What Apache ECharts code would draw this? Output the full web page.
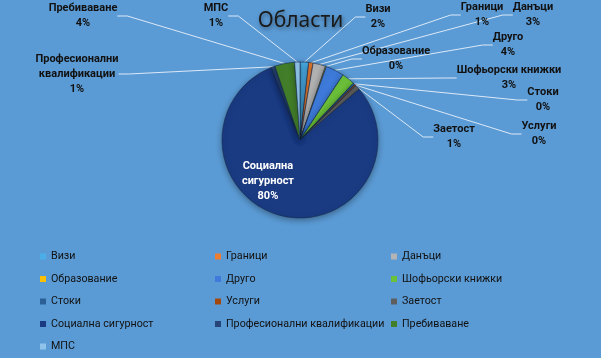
<!DOCTYPE html>
<html>
<head>
<meta charset="utf-8">
<script src="https://cdn.jsdelivr.net/npm/echarts@6/dist/echarts.min.js"></script>
<style>
html,body{margin:0;padding:0;background:#5B9BD5;}
#c{width:601px;height:358px;}
</style>
</head>
<body>
<div id="c"></div>
<script>
const categories = ['Визи','Граници','Данъци','Образование','Друго','Шофьорски книжки','Стоки','Услуги','Заетост','Социална сигурност','Професионални квалификации','Пребиваване','МПС'];
const values = [1.8, 0.9, 2.6, 0.2, 3.8, 2.7, 0.4, 0.3, 1.0, 80.3, 0.8, 4.1, 1.1];
const labelNames = ['Визи','Граници','Данъци','Образование','Друго','Шофьорски книжки','Стоки','Услуги','Заетост','Социална\nсигурност','Професионални\nквалификации','Пребиваване','МПС'];
const legendCol1 = ['Визи','Образование','Стоки','Социална сигурност','МПС'];
const legendCol2 = ['Граници','Друго','Услуги','Професионални квалификации'];
const legendCol3 = ['Данъци','Шофьорски книжки','Заетост','Пребиваване'];

const colors = ['#4BAEE8','#ED7D31','#B4B4B4','#FFC000','#3E7BDB','#6CC13A','#2A6096','#A2480F','#5E5E5E','#1A3A82','#264478','#437F2A','#8FC3EA'];
const labelPos = [[378,17],[482,15],[533,15],[396,59],[508,45],[509,78],[543,100],[539,134],[454,137],null,[77,74],[83,16],[216,16]];

const chart = echarts.init(document.getElementById('c'), null, {renderer:'canvas'});
const data = categories.map((n,i)=>({
  name:n, value:values[i],
  itemStyle:{color:colors[i]},
  label: i===9 ? {position:'inside', color:'#fff', offset:[-22,0]} : {}
}));
function legend(list, left){
  return {
    data:list, orient:'vertical', left:left, top:250, padding:0,
    icon:'rect', itemWidth:6, itemHeight:6, itemGap:9.5,
    itemStyle:{borderWidth:0},
    textStyle:{fontFamily:'Roboto', fontSize:10.7, color:'#111', lineHeight:13},
    selectedMode:false
  };
}
chart.setOption({
  backgroundColor:'#5B9BD5',
  color: colors,
  title:{
    text:'Области', left:'center', top:6,
    textStyle:{fontFamily:'Noto Sans', fontWeight:'normal', fontSize:21, color:'#1a1a1a',
      textShadowColor:'rgba(0,0,0,0.45)', textShadowBlur:4, textShadowOffsetX:1, textShadowOffsetY:2}
  },
  legend:[legend(legendCol1,40), legend(legendCol2,215), legend(legendCol3,391)],
  series:[{
    type:'pie',
    center:[300,140], radius:78, startAngle:90, clockwise:true,
    avoidLabelOverlap:false,
    animation:false,
    data:data,
    itemStyle:{borderColor:'rgba(20,40,70,0.55)', borderWidth:1,
      shadowColor:'rgba(0,0,0,0.35)', shadowBlur:6, shadowOffsetY:2},
    label:{
      formatter:(p)=>labelNames[p.dataIndex]+'\n'+Math.round(p.percent)+'%',
      fontFamily:'Roboto', fontWeight:'bold', fontSize:11, color:'#111',
      lineHeight:15, align:'center'
    },
    labelLine:{show:true, length:10, length2:10, lineStyle:{color:'#dbe9f7', width:1}},
    labelLayout:function(params){
      const p = labelPos[params.dataIndex];
      if(!p) return {};
      return {x:p[0], y:p[1], align:'center', verticalAlign:'middle'};
    }
  }]
});
</script>
</body>
</html>
